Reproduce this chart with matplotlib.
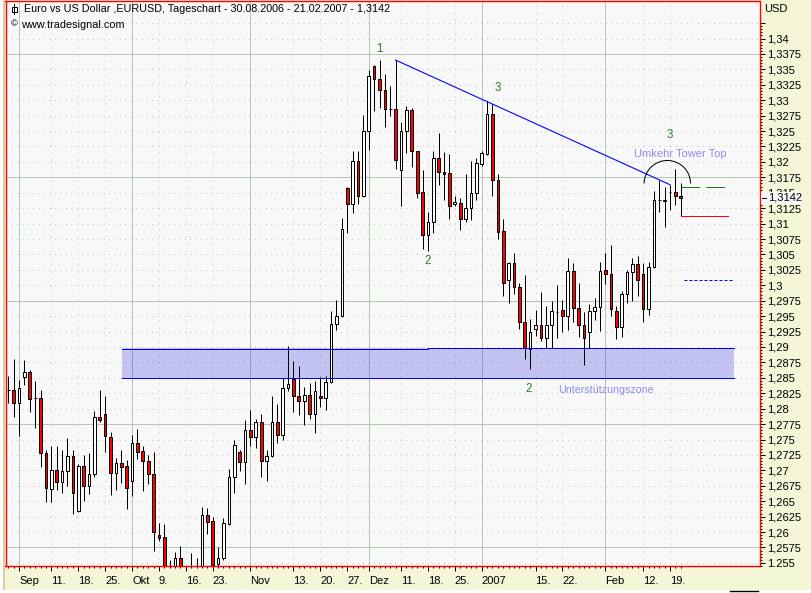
import matplotlib
matplotlib.use('Agg')
import matplotlib.pyplot as plt
from matplotlib.lines import Line2D
from matplotlib.patches import Arc, Rectangle

plt.rcParams['font.family'] = ['Liberation Sans', 'DejaVu Sans']
plt.rcParams['lines.scale_dashes'] = False

# kurse EURUSD
opens = [1.2831,1.2831,1.2809,1.2852,1.2859,1.2817,1.2817,1.2728,1.2669,1.2700,
         1.2681,1.2699,1.2723,1.2634,1.2707,1.2675,1.2694,1.2786,1.2791,1.2754,
         1.2695,1.2712,1.2707,1.2682,1.2744,1.2732,1.2716,1.2694,1.2595,1.2592,
         1.2525,1.2530,1.2558,1.2520,1.2520,1.2515,1.2541,1.2627,1.2618,1.2548,
         1.2558,1.2613,1.2689,1.2729,1.2714,1.2766,1.2754,1.2778,1.2716,1.2724,
         1.2778,1.2758,1.2833,1.2848,1.2820,1.2812,1.2822,1.2791,1.2820,1.2817,
         1.2843,1.2938,1.2950,1.3157,1.3132,1.3201,1.3145,1.3250,1.3355,1.3335,
         1.3316,1.3285,1.3285,1.3187,1.3250,1.3284,1.3217,1.3151,1.3082,1.3102,
         1.3206,1.3183,1.3182,1.3132,1.3133,1.3108,1.3125,1.3149,1.3196,1.3213,
         1.3278,1.3170,1.3088,1.3008,1.3036,1.2997,1.2940,1.2897,1.2929,1.2935,
         1.2915,1.2935,1.2957,1.2960,1.2951,1.3023,1.2963,1.2935,1.2924,1.2958,
         1.2964,1.3024,1.3018,1.2958,1.2932,1.2986,1.3021,1.3034,1.3018,1.2961,
         1.3029,1.3138,1.3137,1.3152,1.3152,1.3144]
closes = [1.2831,1.2809,1.2833,1.2859,1.2816,1.2817,1.2728,1.2672,1.2700,1.2681,
          1.2699,1.2723,1.2663,1.2707,1.2675,1.2694,1.2786,1.2782,1.2755,1.2695,
          1.2712,1.2706,1.2672,1.2744,1.2730,1.2716,1.2694,1.2600,1.2591,1.2530,
          1.2535,1.2558,1.2530,1.2530,1.2535,1.2530,1.2627,1.2617,1.2547,1.2558,
          1.2614,1.2689,1.2741,1.2714,1.2766,1.2754,1.2778,1.2716,1.2724,1.2778,
          1.2758,1.2833,1.2840,1.2820,1.2812,1.2822,1.2791,1.2828,1.2817,1.2843,
          1.2938,1.2950,1.3092,1.3131,1.3201,1.3145,1.3250,1.3339,1.3335,1.3316,
          1.3285,1.3285,1.3203,1.3250,1.3284,1.3217,1.3150,1.3081,1.3102,1.3206,
          1.3183,1.3181,1.3128,1.3135,1.3108,1.3125,1.3149,1.3198,1.3214,1.3278,
          1.3170,1.3087,1.3003,1.3036,1.2997,1.2940,1.2898,1.2924,1.2935,1.2915,
          1.2935,1.2958,1.2957,1.2951,1.3023,1.2963,1.2935,1.2915,1.2958,1.2964,
          1.3023,1.3018,1.2961,1.2932,1.2986,1.3022,1.3034,1.3008,1.2961,1.3029,
          1.3138,1.3138,1.3139,1.3152,1.3144,1.3141]
highs = [1.2853,1.2881,1.2846,1.2879,1.2863,1.2845,1.2830,1.2733,1.2739,1.2739,
         1.2733,1.2752,1.2733,1.2710,1.2725,1.2728,1.2796,1.2830,1.2820,1.2762,
         1.2720,1.2733,1.2717,1.2757,1.2767,1.2739,1.2725,1.2730,1.2615,1.2613,
         1.2555,1.2568,1.2578,1.2535,1.2566,1.2558,1.2641,1.2639,1.2625,1.2575,
         1.2622,1.2702,1.2749,1.2733,1.2782,1.2798,1.2784,1.2792,1.2733,1.2821,
         1.2808,1.2849,1.2902,1.2877,1.2869,1.2835,1.2841,1.2845,1.2851,1.2853,
         1.2958,1.2976,1.3109,1.3160,1.3217,1.3217,1.3276,1.3349,1.3357,1.3365,
         1.3343,1.3323,1.3365,1.3265,1.3291,1.3287,1.3217,1.3187,1.3119,1.3218,
         1.3247,1.3216,1.3213,1.3145,1.3142,1.3180,1.3202,1.3206,1.3218,1.3298,
         1.3294,1.3180,1.3108,1.3038,1.3052,1.3003,1.3016,1.2945,1.2960,1.2989,
         1.2966,1.2974,1.3000,1.2976,1.3044,1.3036,1.3003,1.2957,1.2970,1.2979,
         1.3037,1.3053,1.3065,1.2966,1.2990,1.3025,1.3044,1.3047,1.3036,1.3038,
         1.3153,1.3171,1.3160,1.3163,1.3188,1.3165]
lows = [1.2810,1.2787,1.2756,1.2838,1.2795,1.2769,1.2706,1.2649,1.2648,1.2668,
        1.2664,1.2674,1.2630,1.2633,1.2651,1.2662,1.2690,1.2779,1.2730,1.2660,
        1.2668,1.2680,1.2638,1.2659,1.2719,1.2667,1.2678,1.2570,1.2586,1.2510,
        1.2515,1.2520,1.2515,1.2510,1.2510,1.2505,1.2530,1.2597,1.2538,1.2544,
        1.2555,1.2611,1.2664,1.2699,1.2678,1.2740,1.2737,1.2689,1.2682,1.2722,
        1.2745,1.2749,1.2829,1.2795,1.2790,1.2773,1.2783,1.2761,1.2803,1.2798,
        1.2841,1.2927,1.2948,1.3085,1.3117,1.3131,1.3143,1.3220,1.3283,1.3287,
        1.3256,1.3275,1.3189,1.3129,1.3214,1.3191,1.3141,1.3059,1.3055,1.3084,
        1.3162,1.3138,1.3108,1.3129,1.3090,1.3103,1.3106,1.3138,1.3194,1.3211,
        1.3145,1.3075,1.2982,1.2971,1.2986,1.2929,1.2881,1.2865,1.2918,1.2909,
        1.2898,1.2898,1.2914,1.2924,1.2927,1.2941,1.2916,1.2871,1.2898,1.2944,
        1.2926,1.3002,1.2951,1.2913,1.2916,1.2971,1.2974,1.2983,1.2940,1.2952,
        1.3028,1.3119,1.3094,1.3122,1.3130,1.3112]

# achsen
x_tick_pos = [2,8,13,18,23,28,33,38,45,53,58,63,67,73,78,83,88,98,103,111,118,123]
x_tick_labels = ['Sep','11.','18.','25.','Okt','9.','16.','23.','Nov','13.','20.','27.',
                 'Dez','11.','18.','25.','2007','15.','22.','Feb','12.','19.']
monat_pos = [2,23,45,67,88,111]
woche_pos = [8,13,18,28,33,38,53,58,63,73,78,83,98,103,118,123]
y_ticks = [1.255,1.2575,1.26,1.2625,1.265,1.2675,1.27,1.2725,1.275,1.2775,1.28,1.2825,
           1.285,1.2875,1.29,1.2925,1.295,1.2975,1.3,1.3025,1.305,1.3075,1.31,1.3125,
           1.315,1.3175,1.32,1.3225,1.325,1.3275,1.33,1.3325,1.335,1.3375,1.34,1.3425]
y_tick_labels = ['1,255','1,2575','1,26','1,2625','1,265','1,2675','1,27','1,2725','1,275',
                 '1,2775','1,28','1,2825','1,285','1,2875','1,29','1,2925','1,295','1,2975',
                 '1,3','1,3025','1,305','1,3075','1,31','1,3125','1,315','1,3175','1,32',
                 '1,3225','1,325','1,3275','1,33','1,3325','1,335','1,3375','1,34','']
grid_stark = [1.2575,1.2775,1.2975,1.3175,1.3375]

# eingezeichnete linien
trend_x = [72,123]
trend_y = [1.3365,1.3163]
zone_x = [21.13,134.9]
zone_oben = 1.2899
zone_oben_links = 1.2897
zone_unten = 1.2849
zone_stufe = 78

BG = '#f8f8f8'
CREME = '#f5f5d8'
GRID = '#b4c8b4'
TEXTBLAU = '#8c8cf0'
GRUEN = '#2a7d2a'
PX = 0.72
FS = 8

fig = plt.figure(figsize=(8.11, 5.93), dpi=100, facecolor=CREME)
ax = fig.add_axes([5.5/811, 1-566/593, 754/811, 565/593], facecolor=BG)
ax.set_xlim(-0.52, 139.63)
ax.set_ylim(1.25451, 1.34608)

# gitter
for m in monat_pos:
    ax.axvline(m, color=GRID, lw=PX, zorder=1)
for w in woche_pos:
    ax.axvline(w, color=GRID, lw=PX, ls=(0, (1*PX, 6*PX)), zorder=1)
for v in y_ticks:
    if v in grid_stark:
        ax.axhline(v, color=GRID, lw=PX, zorder=1)
    else:
        ax.axhline(v, color=GRID, lw=PX, ls=(0, (1*PX, 4.4*PX)), zorder=1)

# kerzen
ax.vlines(range(len(highs)), lows, highs, color='black', lw=PX, zorder=3)
for i in range(len(opens)):
    farbe = 'red' if closes[i] < opens[i] else 'white'
    ax.bar(i, abs(closes[i]-opens[i]), bottom=min(opens[i], closes[i]), width=0.5,
           facecolor=farbe, edgecolor='black', lw=PX, zorder=4)

# unterstuetzungszone
ax.add_patch(Rectangle((zone_x[0], zone_unten), zone_x[1]-zone_x[0], zone_oben-zone_unten,
                       facecolor='#0000e0', alpha=0.21, lw=0, zorder=2))
ax.plot([zone_x[0], zone_stufe], [zone_oben_links, zone_oben_links], color='#0000ff', lw=PX, zorder=5)
ax.plot([zone_stufe, zone_x[1]], [zone_oben, zone_oben], color='#0000ff', lw=PX, zorder=5)
ax.plot(zone_x, [zone_unten, zone_unten], color='#0000ff', lw=PX, zorder=5)

ax.plot(trend_x, trend_y, color='#0000ff', lw=1.1*PX, zorder=5)

# kursziele rechts
ax.plot([125, 133.7], [1.3159, 1.3159], color='#1a7a1a', lw=PX, ls=(0, (18.7*PX, 6*PX)), zorder=5)
ax.plot([125, 133.8], [1.3112, 1.3112], color='red', lw=PX, zorder=5)
ax.plot([125.6, 134.9], [1.3008, 1.3008], color='#0000ff', lw=PX, ls=(0, (3*PX, 2*PX)), zorder=5)

ax.add_patch(Arc((122.5, 1.3165), 8.62, 0.00746, theta1=0, theta2=180, color='black', lw=1.0*PX, zorder=5))

# beschriftung im chart
for x, y, s in [(68.9, 1.3383, '1'), (91, 1.3320, '3'), (77.9, 1.3040, '2'), (96.8, 1.2832, '2'), (122.9, 1.3244, '3')]:
    ax.text(x, y, s, color=GRUEN, fontsize=8.3, ha='center', va='center', zorder=6)
ax.text(124.9, 1.3213, 'Umkehr Tower Top', color=TEXTBLAU, fontsize=8, ha='center', va='center', zorder=6)
ax.text(111, 1.2830, 'Unterstützungszone', color=TEXTBLAU, fontsize=7.7, ha='center', va='center', zorder=6)

# rahmen und ticks
for s in ax.spines.values():
    s.set_color('red')
    s.set_linewidth(1.4*PX)
    s.set_zorder(8)

ax.set_xticks(x_tick_pos)
ax.set_xticklabels(x_tick_labels, ha='left', fontsize=FS)
ax.set_xticks(range(len(opens)), minor=True)
ax.tick_params(axis='x', which='major', length=4.5*PX, width=PX, color='black', pad=4)
ax.tick_params(axis='x', which='minor', length=2*PX, width=PX, color='black')

ax.yaxis.tick_right()
ax.set_yticks(y_ticks)
ax.set_yticklabels(y_tick_labels, fontsize=FS)
ax.set_yticks([1.2545+0.0005*i for i in range(177)], minor=True)
ax.tick_params(axis='y', which='major', length=5*PX, width=PX, color='black', pad=2)
ax.tick_params(axis='y', which='minor', length=2*PX, width=PX, color='black')

# kopfzeile
fig.text(23.5/811, 1-9.5/593, 'Euro vs US Dollar ,EURUSD, Tageschart - 30.08.2006 - 21.02.2007 - 1,3142',
         fontsize=7.75, va='center', ha='left', color='black')
fig.text(21/811, 1-25/593, 'www.tradesignal.com', fontsize=7.8, va='center', ha='left', color='black')
fig.text(14/811, 1-23.5/593, '©', fontsize=6.5, va='center', ha='center', color='black')
fig.text(764/811, 1-9.5/593, 'USD', fontsize=FS, va='center', ha='left', color='black')

# kleines kerzensymbol oben links
fig.add_artist(Line2D([14/811, 14/811], [1-4/593, 1-14/593], color='black', lw=PX))
fig.add_artist(Rectangle((11.5/811, 1-11.5/593), 5/811, 5/593, facecolor='white', edgecolor='black',
                         lw=PX, transform=fig.transFigure))

# letzter kurs
fig.add_artist(Rectangle((761/811, 1-204/593), 41/811, 12/593, facecolor=BG, lw=0,
                         transform=fig.transFigure, zorder=5))
fig.text(768/811, 1-198/593, '1,3142', fontsize=FS, va='center', ha='left', color='black', zorder=6)
fig.add_artist(Line2D([762/811, 766/811], [1-198/593, 1-198/593], color='black', lw=PX, zorder=6))

# abgeschnittene label unten, fensterkanten
fig.add_artist(Rectangle((761/811, 0), 50/811, 26.4/593, facecolor=CREME, lw=0,
                         transform=fig.transFigure, zorder=5))
fig.add_artist(Rectangle((0, 0), 3/811, 1, facecolor='white', lw=0, transform=fig.transFigure, zorder=5))
fig.add_artist(Rectangle((3/811, 0), 2/811, 1, facecolor='#d8d0a0', lw=0, transform=fig.transFigure, zorder=5))
fig.add_artist(Rectangle((0, 0), 1, 3/593, facecolor='white', lw=0, transform=fig.transFigure, zorder=5))
fig.add_artist(Line2D([730/811, 758/811], [1-591/593, 1-591/593], color='black', lw=1.4*PX, zorder=6))

fig.savefig('out.png', dpi=100, facecolor=fig.get_facecolor())
